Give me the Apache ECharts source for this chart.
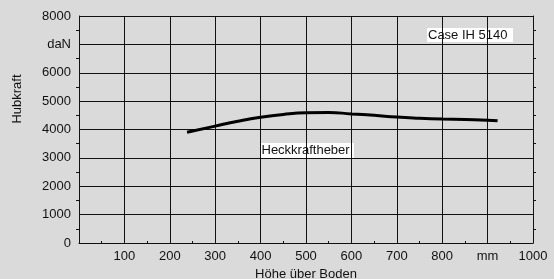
<!DOCTYPE html>
<html>
<head>
<meta charset="utf-8">
<script src="https://cdn.jsdelivr.net/npm/echarts@6/dist/echarts.min.js"></script>
<style>
html, body { margin: 0; padding: 0; background: #dadada; }
#main { width: 554px; height: 279px; }
</style>
</head>
<body>
<div id="main"></div>
<script>
var myChart = echarts.init(document.getElementById('main'));

// Höhe über Boden (mm) / Hubkraft (daN)
var heightMm = [238, 300, 350, 400, 450, 500, 550, 600, 650, 700, 750, 800, 850, 900, 922];
var liftForce = [3900, 4120, 4290, 4430, 4530, 4590, 4600, 4550, 4500, 4440, 4400, 4370, 4350, 4330, 4310];

var xTickLabels = ['', '100', '200', '300', '400', '500', '600', '700', '800', 'mm', '1000'];
var yTickLabels = ['0', '1000', '2000', '3000', '4000', '5000', '6000', 'daN', '8000'];

var font = 'Liberation Sans, Arial, sans-serif';
var ink = '#111111';

var points = heightMm.map(function (x, i) { return [x, liftForce[i]]; });

option = {
    backgroundColor: '#dadada',
    animation: false,
    grid: {
        left: 79,
        right: 21,
        top: 16,
        bottom: 36,
        containLabel: false,
        outerBoundsMode: 'none'
    },
    xAxis: {
        type: 'value',
        min: 0,
        max: 1000,
        interval: 100,
        name: 'Höhe über Boden',
        nameLocation: 'middle',
        nameGap: 23,
        nameTextStyle: { fontFamily: font, fontSize: 13, color: ink },
        axisLine: { lineStyle: { color: ink, width: 1 } },
        axisTick: { show: false, inside: true },
        minorTick: { show: true, splitNumber: 2, length: 2, lineStyle: { color: ink } },
        axisLabel: {
            margin: 7,
            fontFamily: font,
            fontSize: 13,
            color: ink,
            formatter: function (v) { return xTickLabels[Math.round(v / 100)]; }
        },
        splitLine: { show: true, lineStyle: { color: ink, width: 1 } }
    },
    yAxis: [
        {
            type: 'value',
            min: 0,
            max: 8000,
            interval: 1000,
            axisLine: { show: true, lineStyle: { color: ink, width: 1 } },
            axisTick: { show: false },
            minorTick: { show: true, splitNumber: 2, length: 3, lineStyle: { color: ink } },
            axisLabel: {
                margin: 8,
                fontFamily: font,
                fontSize: 13,
                color: ink,
                formatter: function (v) { return yTickLabels[Math.round(v / 1000)]; }
            },
            splitLine: { show: true, lineStyle: { color: ink, width: 1 } }
        },
        {
            type: 'value',
            position: 'right',
            min: 0,
            max: 8000,
            interval: 1000,
            axisLine: { show: true, lineStyle: { color: ink, width: 1 } },
            axisTick: { show: false },
            minorTick: { show: true, splitNumber: 2, length: 3, lineStyle: { color: ink } },
            axisLabel: { show: false },
            splitLine: { show: false }
        }
    ],
    graphic: [
        {
            type: 'text',
            rotation: Math.PI / 2,
            x: 17,
            y: 99,
            style: { text: 'Hubkraft', font: '13px ' + font, fill: ink, align: 'center', verticalAlign: 'middle' }
        },
        {
            type: 'rect',
            x: 427,
            y: 28,
            shape: { width: 86, height: 14 },
            style: { fill: '#ffffff' }
        },
        {
            type: 'text',
            x: 428,
            y: 35,
            style: { text: 'Case IH 5140', font: '13px ' + font, fill: ink, verticalAlign: 'middle' }
        },
        {
            type: 'rect',
            x: 261,
            y: 143,
            shape: { width: 93, height: 15 },
            style: { fill: '#ffffff' }
        },
        {
            type: 'text',
            x: 261.5,
            y: 150.5,
            style: { text: 'Heckkraftheber', font: '13px ' + font, fill: ink, verticalAlign: 'middle' }
        }
    ],
    series: [
        {
            name: 'Heckkraftheber',
            type: 'line',
            smooth: true,
            symbol: 'none',
            data: points,
            lineStyle: { color: '#000000', width: 3 }
        }
    ]
};
myChart.setOption(option);

window.onresize = function () {
    myChart.resize();
};
</script>
</body>
</html>
